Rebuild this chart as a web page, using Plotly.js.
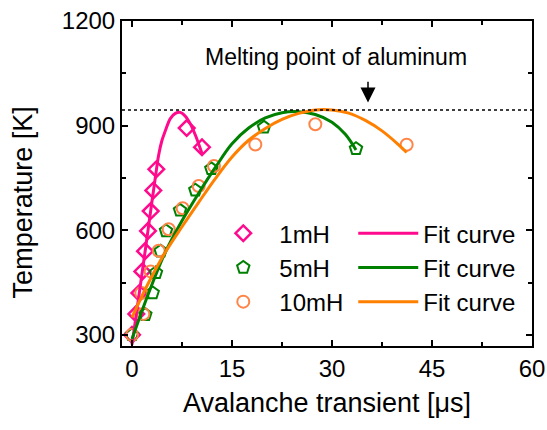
<!DOCTYPE html>
<html>
<head>
<meta charset="utf-8">
<script src="https://cdn.plot.ly/plotly-3.0.1.min.js"></script>
<style>html,body{margin:0;padding:0;background:#fff;}#chart{width:547px;height:430px;}</style>
</head>
<body>
<div id="chart"></div>
<script>
// Measured data (transient in microseconds, temperature in K)
const x1mH = [0, 0.65, 1.1, 1.55, 1.95, 2.4, 2.8, 3.2, 3.65, 8.2, 10.5];
const y1mH = [300, 360, 420, 482, 540, 598, 655, 714, 775, 893, 838];

const x5mH = [0, 2.0, 3.1, 3.6, 4.3, 5.1, 7.2, 9.5, 11.9, 19.8, 33.6];
const y5mH = [300, 358, 420, 478, 540, 598, 657, 715, 776, 895, 834];

const x10mH = [0, 1.7, 1.4, 2.8, 4.0, 5.5, 7.6, 10.0, 12.3, 18.5, 27.5, 41.2];
const y10mH = [300, 360, 420, 482, 541, 603, 663, 727, 784, 846, 904, 845];

// Fit curves
const fitX1 = [0, 1, 2, 3, 3.5, 4, 4.5, 5, 5.75, 6.5, 7.25, 8, 8.75, 9.5, 10.5];
const fitY1 = [272, 407, 544, 683, 751, 816, 858, 885, 920, 935, 938, 927, 905, 873, 820];

const fitX5 = [0, 2.5, 5, 7.5, 10, 12.5, 15, 17.5, 20, 22.5, 25, 27.5, 30, 32, 33.6];
const fitY5 = [288, 420, 537, 627, 706, 780, 848, 893, 922, 937, 940, 932, 910, 875, 830];

const fitX10 = [0, 2.5, 5, 7.5, 10, 12.5, 15, 17.5, 20, 22.5, 25, 27.5, 30, 32.5, 35, 37.5, 40, 41.2];
const fitY10 = [350, 450, 537, 610, 680, 748, 810, 858, 892, 918, 935, 945, 945, 936, 915, 885, 845, 823];

const meltingPoint = 945;
const xTicks = [0, 15, 30, 45, 60];
const yTicks = [300, 600, 900, 1200];
const seriesNames = ['1mH', '5mH', '10mH'];
const fitName = 'Fit curve';

const FONT = 'Liberation Sans, Arial, sans-serif';
const pink = '#ff0a8c', green = '#008000', orange = '#ff8000', orangeMk = '#ff8448';

const traces = [
  {x: x1mH, y: y1mH, name: seriesNames[0], mode: 'markers', type: 'scatter', legend: 'legend',
   marker: {symbol: 'diamond-open', size: 12, color: pink, line: {width: 2.5, color: pink}}},
  {x: x5mH, y: y5mH, name: seriesNames[1], mode: 'markers', type: 'scatter', legend: 'legend',
   marker: {symbol: 'pentagon-open', size: 13, color: green, line: {width: 2, color: green}}},
  {x: x10mH, y: y10mH, name: seriesNames[2], mode: 'markers', type: 'scatter', legend: 'legend',
   marker: {symbol: 'circle-open', size: 12, color: orangeMk, line: {width: 2, color: orangeMk}}},
  {x: fitX1, y: fitY1, name: fitName, mode: 'lines', type: 'scatter', legend: 'legend2',
   line: {color: pink, width: 3, shape: 'spline', smoothing: 1}},
  {x: fitX5, y: fitY5, name: fitName, mode: 'lines', type: 'scatter', legend: 'legend2',
   line: {color: green, width: 3, shape: 'spline', smoothing: 1}},
  {x: fitX10, y: fitY10, name: fitName, mode: 'lines', type: 'scatter', legend: 'legend2',
   line: {color: orange, width: 3, shape: 'spline', smoothing: 1}}
];

const axisCommon = {
  showline: true, linewidth: 2, linecolor: '#000', mirror: 'ticks',
  ticks: 'inside', ticklen: 6, tickwidth: 2, tickcolor: '#000',
  showgrid: false, zeroline: false,
  tickfont: {family: FONT, size: 24, color: '#000'}
};

const layout = {
  width: 547, height: 430,
  margin: {l: 122, r: 15, t: 21, b: 84},
  paper_bgcolor: '#fff', plot_bgcolor: '#fff',
  font: {family: FONT, color: '#000'},
  xaxis: Object.assign({}, axisCommon, {
    range: [-1.5, 60], tickvals: xTicks,
    minor: {dtick: 7.5, tick0: 0, ticks: 'inside', ticklen: 4, tickwidth: 2, tickcolor: '#000'},
    title: {text: 'Avalanche transient [μs]', font: {family: FONT, size: 27}, standoff: 12}
  }),
  yaxis: Object.assign({}, axisCommon, {
    range: [268, 1200], tickvals: yTicks,
    minor: {dtick: 150, tick0: 0, ticks: 'inside', ticklen: 4, tickwidth: 2, tickcolor: '#000'}
  }),
  showlegend: true,
  legend: {x: 0.208, y: 0.415, xanchor: 'left', yanchor: 'top', bgcolor: 'rgba(0,0,0,0)',
           font: {family: FONT, size: 24}, itemwidth: 62, tracegroupgap: 0, traceorder: 'normal'},
  legend2: {x: 0.564, y: 0.415, xanchor: 'left', yanchor: 'top', bgcolor: 'rgba(0,0,0,0)',
            font: {family: FONT, size: 24}, itemwidth: 60, tracegroupgap: 0, traceorder: 'normal'},
  shapes: [
    {type: 'line', xref: 'paper', x0: 0, x1: 1, yref: 'y', y0: meltingPoint, y1: meltingPoint,
     line: {color: '#000', width: 1.5, dash: 'dot'}}
  ],
  annotations: [
    {x: -0.2406, y: 0.443, xref: 'paper', yref: 'paper', xanchor: 'center', yanchor: 'middle',
     text: 'Temperature [K]', textangle: -90,
     showarrow: false, font: {family: FONT, size: 27, color: '#000'}},
    {x: 30.6, y: 1098, xref: 'x', yref: 'y', text: 'Melting point of aluminum', showarrow: false,
     font: {family: FONT, size: 23, color: '#000'}},
    {x: 35.4, y: 966, xref: 'x', yref: 'y', ax: 35.4, ay: 1030, axref: 'x', ayref: 'y', text: '',
     showarrow: true, arrowhead: 2, arrowsize: 2, arrowwidth: 1.5, arrowcolor: '#000'}
  ]
};

Plotly.newPlot('chart', traces, layout, {displayModeBar: false, staticPlot: true});
</script>
</body>
</html>
